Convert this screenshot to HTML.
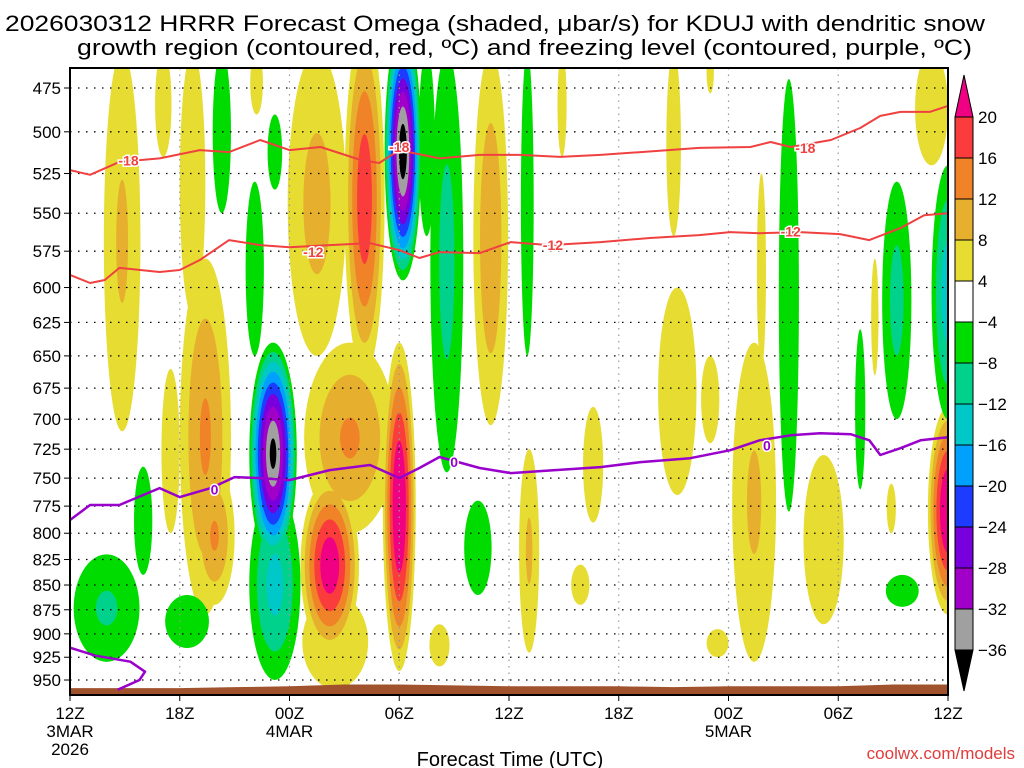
<!DOCTYPE html>
<html><head><meta charset="utf-8"><style>
html,body{margin:0;padding:0;background:#fff;}
svg{display:block;font-family:"Liberation Sans",sans-serif;}
</style></head><body>
<svg id="chart" width="1024" height="768" viewBox="0 0 1024 768" xmlns="http://www.w3.org/2000/svg">
<text x="5" y="31" font-size="22" textLength="980" lengthAdjust="spacingAndGlyphs">2026030312 HRRR Forecast Omega (shaded, μbar/s) for KDUJ with dendritic snow</text>
<text x="77" y="55" font-size="22" textLength="895" lengthAdjust="spacingAndGlyphs">growth region (contoured, red, ºC) and freezing level (contoured, purple, ºC)</text>
<defs><clipPath id="plotclip"><rect x="70" y="68" width="878" height="627"/></clipPath></defs>
<g id="shading" clip-path="url(#plotclip)"></g>
<g id="grid"></g>
<g id="ground" clip-path="url(#plotclip)"></g>
<g id="contours" clip-path="url(#plotclip)"></g>
<rect x="70" y="68" width="878" height="627" fill="none" stroke="#000" stroke-width="2"/>
<g id="axes"></g>
<g id="colorbar"></g>
<text x="510" y="766" font-size="20" text-anchor="middle">Forecast Time (UTC)</text>
<text x="1015" y="759" font-size="17" text-anchor="end" fill="#e03c3c">coolwx.com/models</text>
</svg>
<script>
// ---- data ----
const pressureTicks = [475,500,525,550,575,600,625,650,675,700,725,750,775,800,825,850,875,900,925,950];
const timeTickHours = [0,6,12,18,24,30,36,42,48];
const timeTickLabels = ["12Z","18Z","00Z","06Z","12Z","18Z","00Z","06Z","12Z"];
const dateLabels = [[0,"3MAR","2026"],[12,"4MAR",""],[36,"5MAR",""]];
// omega cells: hour, half-width (h), top pressure, bottom pressure, peak value
const cellHour  = [2.85,5.1,5.5,7.4,6.7,7.9,10.2,13.5,16.1,15.3,14.2,14.5,18.0,23.0,25.1,20.2,26.9,33.0,35.0,37.4,37.8,33.2,35.0,28.6,27.9,35.4,41.2,44.0,44.9,47.1,48.0,
                   8.3,11.2,11.1,10.1,11.2,18.2,19.5,20.6,25.0,22.3,4.0,2.0,6.4,39.3,43.2,45.2,45.5,48.0];
const cellHalfW = [1.0,0.45,0.5,1.4,0.7,1.1,0.35,1.6,1.1,2.5,1.6,1.8,0.9,0.95,0.55,0.55,0.25,0.4,0.2,1.2,0.25,1.05,0.5,0.55,0.5,0.6,1.1,0.2,0.25,0.9,1.1,
                   0.5,0.4,1.3,0.5,1.4,1.0,0.45,0.9,0.35,0.75,0.5,1.8,1.2,0.55,0.28,0.8,0.9,0.9];
const cellPTop  = [455,455,660,580,455,740,455,455,440,640,750,860,640,455,725,890,455,455,455,640,525,600,650,690,830,895,730,580,755,455,690,
                   455,490,640,530,760,440,455,455,455,770,740,820,860,470,630,530,840,520];
const cellPBot  = [710,515,800,880,620,870,490,650,665,800,920,960,940,705,920,935,515,565,478,930,660,765,720,790,870,925,890,665,800,520,880,
                   550,535,830,650,950,595,565,745,650,860,840,930,915,780,760,700,872,700];
const cellPeak  = [9,6,6,13,6,13,5,10,19.8,13,24,6,26,12,9,5,5,5,5,9,5,6,5,5,5,5,6,5,5,6,26,
                   -6,-6,-38,-6,-14,-40,-6,-10,-6,-6,-6,-9,-6,-7,-6,-10,-6,-15];
const posLevels = [4,8,12,16,20];
const posColors = ["#e6dc32","#e6af2d","#f08228","#fa3c3c","#f00082"];
const negLevels = [-4,-8,-12,-16,-20,-24,-28,-32,-36];
const negColors = ["#00dc00","#00d28c","#00c8c8","#00a0ff","#1e3cff","#7800dc","#a000c8","#a0a0a0","#000000"];
// contour lines (hour, pressure)
const m18Hours = [0,1.1,2.7,4.9,7.1,8.7,10.4,12,13.7,15.9,16.9,18,20.2,22.4,24.6,26.8,29,31.2,34.4,37.2,38.3,39.4,41.6,43.2,44.3,45.4,47,48];
const m18Press = [522.9,525.8,517.9,515.8,510.8,512,504.8,510.8,509,516.8,518.6,510.8,515.8,513.7,513.7,514.9,513.7,512,509.5,509,506,509,504.8,497.8,490.8,488.5,488.5,485.1];
const m12Hours = [0,1.1,1.9,2.7,4.9,6,7.1,8.7,10.4,12,14.2,16.4,18,19.1,20.2,22.4,24.1,26.2,29,31.7,34.4,36.1,37.7,39.9,42.1,43.7,45.4,46.7,48];
const m12Press = [591.2,596.8,594.7,586.4,589.2,587.8,581,567.6,570.9,572.3,570.9,569.6,574.3,579.6,575.6,576.3,568.9,570.9,568.9,566.2,564.3,562.3,563,562.3,563.6,567.6,559.7,551.3,550];
const zeroHours = [0,1.1,2.7,4.9,6,7.7,9,10.4,12,14.2,16.4,18,19.1,20.2,22.4,24.1,25.7,29,31.2,33.9,36.1,37.7,39.4,41,42.7,43.7,44.3,45.4,46.5,48];
const zeroPress = [787.7,774,774,758.8,766.9,758.8,749.1,750,751.7,743,738.6,750,741.2,731.7,741.2,745.6,743.9,740.4,736.1,732.7,725.9,717.5,713.3,711.7,712.5,717.5,730,724.2,717.5,715];
const zero2Hours = [0,1.4,3.3,4.1,3.8,2.6];
const zero2Press = [914.7,923.3,929.8,940.8,950,961];
const labelHours = [3.2,18.0,40.2,13.3,26.4,39.4,7.9,21.0,38.1];
const labelPress = [517,509,509.5,575.6,571,562,760,736,722];
const labelText  = ["-18","-18","-18","-12","-12","-12","0","0","0"];
const labelColor = ["#f04040","#f04040","#f04040","#f04040","#f04040","#f04040","#9900cc","#9900cc","#9900cc"];
const groundHours = [0,3,6,9,12,15,18,21,24,27,30,33,36,39,42,45,48];
const groundPress = [959,959,959,958,957,955,955,956,957,957,957,958,957,957,957,955,955];
const cbLabels = ["20","16","12","8","4","\u22124","\u22128","\u221212","\u221216","\u221220","\u221224","\u221228","\u221232","\u221236"];
const cbColors = ["#fa3c3c","#f08228","#e6af2d","#e6dc32","#ffffff","#00dc00","#00d28c","#00c8c8","#00a0ff","#1e3cff","#7800dc","#a000c8","#a0a0a0"];

// ---- scales ----
const NS="http://www.w3.org/2000/svg";
function X(h){return 70+h*(878/48);}
function Y(p){return 88+854.1*Math.log(p/475);}
function mk(tag,attrs,parent){const e=document.createElementNS(NS,tag);for(const k in attrs)e.setAttribute(k,attrs[k]);parent.appendChild(e);return e;}

// shading
const shading=document.getElementById('shading');
function drawLevels(levels,colors,sign){
  levels.forEach((t,li)=>{
    for(let i=0;i<cellHour.length;i++){
      const pk=cellPeak[i];
      if(Math.sign(pk)!==sign||Math.abs(pk)<=Math.abs(t))continue;
      const f=(Math.abs(t)-4)/(Math.abs(pk)-4);
      const s=Math.pow(1-f,0.7);
      const yt=Y(cellPTop[i]),yb=Y(cellPBot[i]);
      const el=mk('ellipse',{cx:X(cellHour[i]),cy:(yt+yb)/2,rx:cellHalfW[i]*18.29*s,ry:(yb-yt)/2*s,fill:colors[li]},shading);
      
      
    }
  });
}
drawLevels(posLevels,posColors,1);
drawLevels(negLevels,negColors,-1);

// grid
const grid=document.getElementById('grid');
pressureTicks.forEach(p=>{
  const l=mk('line',{x1:70,x2:948,y1:Y(p),y2:Y(p),stroke:'#000','stroke-width':1.3,'stroke-dasharray':'1.5,6.5'},grid);
  
  
});
timeTickHours.forEach(h=>{
  const l=mk('line',{x1:X(h),x2:X(h),y1:68,y2:695,stroke:'#999','stroke-width':1.2,'stroke-dasharray':'1.5,5'},grid);
  
  
});

// ground
const ground=document.getElementById('ground');
let gd='M'+X(groundHours[0])+',700';
groundHours.forEach((h,i)=>{gd+=' L'+X(h)+','+Y(groundPress[i]);});
gd+=' L'+X(48)+',700 Z';
const gp=mk('path',{d:gd,fill:'#a0522d'},ground);



// contours
const cont=document.getElementById('contours');
function line(hs,ps,color,w,name){
  const d=hs.map((h,i)=>(i?'L':'M')+X(h).toFixed(1)+','+Y(ps[i]).toFixed(1)).join(' ');
  const p=mk('path',{d:d,fill:'none',stroke:color,'stroke-width':w,'stroke-linejoin':'round'},cont);
  
  
}
line(m18Hours,m18Press,'#f04040',2,'contour-minus18');
line(m12Hours,m12Press,'#f04040',2,'contour-minus12');
line(zeroHours,zeroPress,'#9900cc',2.5,'freezing-level-0');
line(zero2Hours,zero2Press,'#9900cc',2.5,'freezing-level-0-lower');
labelHours.forEach((h,i)=>{
  const t=mk('text',{x:X(h),y:Y(labelPress[i])+5,'font-size':14,'font-weight':'bold','text-anchor':'middle',fill:labelColor[i],stroke:'#fff','stroke-width':3,'paint-order':'stroke'},cont);
  t.textContent=labelText[i];
  
  
});

// axes
const axes=document.getElementById('axes');
pressureTicks.forEach(p=>{
  const tk=mk('line',{x1:64,x2:70,y1:Y(p),y2:Y(p),stroke:'#000','stroke-width':1},axes);
  
  
  const t=mk('text',{x:61,y:Y(p)+6,'font-size':17,'text-anchor':'end'},axes);
  t.textContent=p;
  
  
});
timeTickHours.forEach((h,i)=>{
  const tk=mk('line',{x1:X(h),x2:X(h),y1:695,y2:701,stroke:'#000','stroke-width':1},axes);
  
  
  const t=mk('text',{x:X(h),y:719,'font-size':17,'text-anchor':'middle'},axes);
  t.textContent=timeTickLabels[i];
  
  
});
dateLabels.forEach(d=>{
  const t=mk('text',{x:X(d[0]),y:737,'font-size':17,'text-anchor':'middle'},axes);
  t.textContent=d[1];
  
  
  if(d[2]){
    const t2=mk('text',{x:X(d[0]),y:755,'font-size':17,'text-anchor':'middle'},axes);
    t2.textContent=d[2];
    
    
  }
});

// colorbar
const cb=document.getElementById('colorbar');
const cbx=955,cbw=18,cbTop=117,cbStep=41;
const tri1=mk('path',{d:`M${cbx},${cbTop} L${cbx+cbw/2},75 L${cbx+cbw},${cbTop} Z`,fill:'#f00082',stroke:'#000','stroke-width':1},cb);


cbColors.forEach((c,i)=>{
  const r=mk('rect',{x:cbx,y:cbTop+i*cbStep,width:cbw,height:cbStep,fill:c,stroke:'#000','stroke-width':1},cb);
  
  
});
const bot=cbTop+cbColors.length*cbStep;
const tri2=mk('path',{d:`M${cbx},${bot} L${cbx+cbw/2},691 L${cbx+cbw},${bot} Z`,fill:'#000',stroke:'#000','stroke-width':1},cb);


cbLabels.forEach((l,i)=>{
  const t=mk('text',{x:978,y:cbTop+i*cbStep+6,'font-size':17},cb);
  t.textContent=l;
  
  
});
</script>
</body></html>
